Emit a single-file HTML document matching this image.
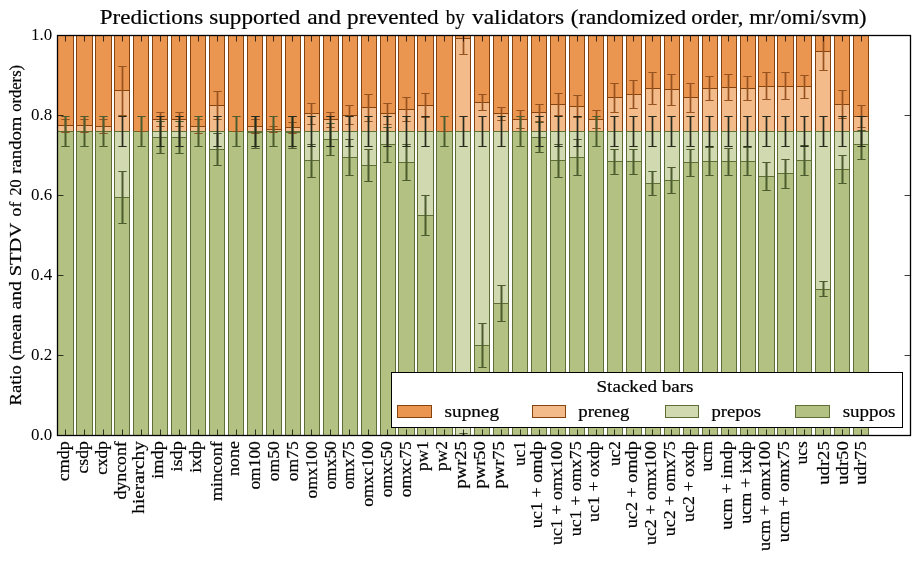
<!DOCTYPE html>
<html><head><meta charset="utf-8"><title>Predictions supported and prevented by validators</title>
<style>html,body{margin:0;padding:0;background:#fff}svg{display:block}text{font-family:"Liberation Serif",serif;fill:#000;stroke:#000;stroke-width:0.2px}text.n{stroke:none}</style>
</head><body>
<svg width="919" height="562" viewBox="0 0 919 562">
<rect width="919" height="562" fill="#fff"/>
<defs><clipPath id="ax"><rect x="57.5" y="35.5" width="853" height="400"/></clipPath></defs>
<g clip-path="url(#ax)" stroke-width="1">
<rect x="57.5" y="35.5" width="16" height="90" fill="#eb9650" stroke="#85440f"/>
<rect x="57.5" y="125.5" width="16" height="6" fill="#f4bb8a" stroke="#85440f"/>
<rect x="57.5" y="131.5" width="16" height="304" fill="#b3c283" stroke="#5d6e36"/>
<rect x="76.5" y="35.5" width="16" height="90" fill="#eb9650" stroke="#85440f"/>
<rect x="76.5" y="125.5" width="16" height="6" fill="#f4bb8a" stroke="#85440f"/>
<rect x="76.5" y="131.5" width="16" height="304" fill="#b3c283" stroke="#5d6e36"/>
<rect x="95.5" y="35.5" width="16" height="91" fill="#eb9650" stroke="#85440f"/>
<rect x="95.5" y="126.5" width="16" height="5" fill="#f4bb8a" stroke="#85440f"/>
<rect x="95.5" y="131.5" width="16" height="304" fill="#b3c283" stroke="#5d6e36"/>
<rect x="114.5" y="35.5" width="15" height="55" fill="#eb9650" stroke="#85440f"/>
<rect x="114.5" y="90.5" width="15" height="41" fill="#f4bb8a" stroke="#85440f"/>
<rect x="114.5" y="131.5" width="15" height="66" fill="#d0d9b0" stroke="#5d6e36"/>
<rect x="114.5" y="197.5" width="15" height="238" fill="#b3c283" stroke="#5d6e36"/>
<rect x="133.5" y="35.5" width="15" height="96" fill="#eb9650" stroke="#85440f"/>
<rect x="133.5" y="131.5" width="15" height="304" fill="#b3c283" stroke="#5d6e36"/>
<rect x="152.5" y="35.5" width="15" height="84" fill="#eb9650" stroke="#85440f"/>
<rect x="152.5" y="119.5" width="15" height="12" fill="#f4bb8a" stroke="#85440f"/>
<rect x="152.5" y="131.5" width="15" height="6" fill="#d0d9b0" stroke="#5d6e36"/>
<rect x="152.5" y="137.5" width="15" height="298" fill="#b3c283" stroke="#5d6e36"/>
<rect x="171.5" y="35.5" width="15" height="84" fill="#eb9650" stroke="#85440f"/>
<rect x="171.5" y="119.5" width="15" height="12" fill="#f4bb8a" stroke="#85440f"/>
<rect x="171.5" y="131.5" width="15" height="6" fill="#d0d9b0" stroke="#5d6e36"/>
<rect x="171.5" y="137.5" width="15" height="298" fill="#b3c283" stroke="#5d6e36"/>
<rect x="190.5" y="35.5" width="15" height="91" fill="#eb9650" stroke="#85440f"/>
<rect x="190.5" y="126.5" width="15" height="5" fill="#f4bb8a" stroke="#85440f"/>
<rect x="190.5" y="131.5" width="15" height="304" fill="#b3c283" stroke="#5d6e36"/>
<rect x="209.5" y="35.5" width="15" height="70" fill="#eb9650" stroke="#85440f"/>
<rect x="209.5" y="105.5" width="15" height="26" fill="#f4bb8a" stroke="#85440f"/>
<rect x="209.5" y="131.5" width="15" height="18" fill="#d0d9b0" stroke="#5d6e36"/>
<rect x="209.5" y="149.5" width="15" height="286" fill="#b3c283" stroke="#5d6e36"/>
<rect x="228.5" y="35.5" width="15" height="96" fill="#eb9650" stroke="#85440f"/>
<rect x="228.5" y="131.5" width="15" height="304" fill="#b3c283" stroke="#5d6e36"/>
<rect x="247.5" y="35.5" width="15" height="91" fill="#eb9650" stroke="#85440f"/>
<rect x="247.5" y="126.5" width="15" height="5" fill="#f4bb8a" stroke="#85440f"/>
<rect x="247.5" y="131.5" width="15" height="1" fill="#d0d9b0" stroke="#5d6e36"/>
<rect x="247.5" y="132.5" width="15" height="303" fill="#b3c283" stroke="#5d6e36"/>
<rect x="266.5" y="35.5" width="15" height="94" fill="#eb9650" stroke="#85440f"/>
<rect x="266.5" y="129.5" width="15" height="2" fill="#f4bb8a" stroke="#85440f"/>
<rect x="266.5" y="131.5" width="15" height="304" fill="#b3c283" stroke="#5d6e36"/>
<rect x="285.5" y="35.5" width="15" height="92" fill="#eb9650" stroke="#85440f"/>
<rect x="285.5" y="127.5" width="15" height="4" fill="#f4bb8a" stroke="#85440f"/>
<rect x="285.5" y="131.5" width="15" height="1" fill="#d0d9b0" stroke="#5d6e36"/>
<rect x="285.5" y="132.5" width="15" height="303" fill="#b3c283" stroke="#5d6e36"/>
<rect x="304.5" y="35.5" width="15" height="78" fill="#eb9650" stroke="#85440f"/>
<rect x="304.5" y="113.5" width="15" height="18" fill="#f4bb8a" stroke="#85440f"/>
<rect x="304.5" y="131.5" width="15" height="29" fill="#d0d9b0" stroke="#5d6e36"/>
<rect x="304.5" y="160.5" width="15" height="275" fill="#b3c283" stroke="#5d6e36"/>
<rect x="323.5" y="35.5" width="15" height="84" fill="#eb9650" stroke="#85440f"/>
<rect x="323.5" y="119.5" width="15" height="12" fill="#f4bb8a" stroke="#85440f"/>
<rect x="323.5" y="131.5" width="15" height="8" fill="#d0d9b0" stroke="#5d6e36"/>
<rect x="323.5" y="139.5" width="15" height="296" fill="#b3c283" stroke="#5d6e36"/>
<rect x="342.5" y="35.5" width="15" height="80" fill="#eb9650" stroke="#85440f"/>
<rect x="342.5" y="115.5" width="15" height="16" fill="#f4bb8a" stroke="#85440f"/>
<rect x="342.5" y="131.5" width="15" height="26" fill="#d0d9b0" stroke="#5d6e36"/>
<rect x="342.5" y="157.5" width="15" height="278" fill="#b3c283" stroke="#5d6e36"/>
<rect x="361.5" y="35.5" width="15" height="72" fill="#eb9650" stroke="#85440f"/>
<rect x="361.5" y="107.5" width="15" height="24" fill="#f4bb8a" stroke="#85440f"/>
<rect x="361.5" y="131.5" width="15" height="34" fill="#d0d9b0" stroke="#5d6e36"/>
<rect x="361.5" y="165.5" width="15" height="270" fill="#b3c283" stroke="#5d6e36"/>
<rect x="380.5" y="35.5" width="15" height="78" fill="#eb9650" stroke="#85440f"/>
<rect x="380.5" y="113.5" width="15" height="18" fill="#f4bb8a" stroke="#85440f"/>
<rect x="380.5" y="131.5" width="15" height="13" fill="#d0d9b0" stroke="#5d6e36"/>
<rect x="380.5" y="144.5" width="15" height="291" fill="#b3c283" stroke="#5d6e36"/>
<rect x="398.5" y="35.5" width="16" height="74" fill="#eb9650" stroke="#85440f"/>
<rect x="398.5" y="109.5" width="16" height="22" fill="#f4bb8a" stroke="#85440f"/>
<rect x="398.5" y="131.5" width="16" height="31" fill="#d0d9b0" stroke="#5d6e36"/>
<rect x="398.5" y="162.5" width="16" height="273" fill="#b3c283" stroke="#5d6e36"/>
<rect x="417.5" y="35.5" width="16" height="70" fill="#eb9650" stroke="#85440f"/>
<rect x="417.5" y="105.5" width="16" height="26" fill="#f4bb8a" stroke="#85440f"/>
<rect x="417.5" y="131.5" width="16" height="84" fill="#d0d9b0" stroke="#5d6e36"/>
<rect x="417.5" y="215.5" width="16" height="220" fill="#b3c283" stroke="#5d6e36"/>
<rect x="436.5" y="35.5" width="16" height="96" fill="#eb9650" stroke="#85440f"/>
<rect x="436.5" y="131.5" width="16" height="304" fill="#b3c283" stroke="#5d6e36"/>
<rect x="455.5" y="35.5" width="15" height="3" fill="#eb9650" stroke="#85440f"/>
<rect x="455.5" y="38.5" width="15" height="93" fill="#f4bb8a" stroke="#85440f"/>
<rect x="455.5" y="131.5" width="15" height="304" fill="#d0d9b0" stroke="#5d6e36"/>
<rect x="474.5" y="35.5" width="15" height="67" fill="#eb9650" stroke="#85440f"/>
<rect x="474.5" y="102.5" width="15" height="29" fill="#f4bb8a" stroke="#85440f"/>
<rect x="474.5" y="131.5" width="15" height="214" fill="#d0d9b0" stroke="#5d6e36"/>
<rect x="474.5" y="345.5" width="15" height="90" fill="#b3c283" stroke="#5d6e36"/>
<rect x="493.5" y="35.5" width="15" height="78" fill="#eb9650" stroke="#85440f"/>
<rect x="493.5" y="113.5" width="15" height="18" fill="#f4bb8a" stroke="#85440f"/>
<rect x="493.5" y="131.5" width="15" height="172" fill="#d0d9b0" stroke="#5d6e36"/>
<rect x="493.5" y="303.5" width="15" height="132" fill="#b3c283" stroke="#5d6e36"/>
<rect x="512.5" y="35.5" width="15" height="84" fill="#eb9650" stroke="#85440f"/>
<rect x="512.5" y="119.5" width="15" height="12" fill="#f4bb8a" stroke="#85440f"/>
<rect x="512.5" y="131.5" width="15" height="304" fill="#b3c283" stroke="#5d6e36"/>
<rect x="531.5" y="35.5" width="15" height="77" fill="#eb9650" stroke="#85440f"/>
<rect x="531.5" y="112.5" width="15" height="19" fill="#f4bb8a" stroke="#85440f"/>
<rect x="531.5" y="131.5" width="15" height="6" fill="#d0d9b0" stroke="#5d6e36"/>
<rect x="531.5" y="137.5" width="15" height="298" fill="#b3c283" stroke="#5d6e36"/>
<rect x="550.5" y="35.5" width="15" height="69" fill="#eb9650" stroke="#85440f"/>
<rect x="550.5" y="104.5" width="15" height="27" fill="#f4bb8a" stroke="#85440f"/>
<rect x="550.5" y="131.5" width="15" height="29" fill="#d0d9b0" stroke="#5d6e36"/>
<rect x="550.5" y="160.5" width="15" height="275" fill="#b3c283" stroke="#5d6e36"/>
<rect x="569.5" y="35.5" width="15" height="71" fill="#eb9650" stroke="#85440f"/>
<rect x="569.5" y="106.5" width="15" height="25" fill="#f4bb8a" stroke="#85440f"/>
<rect x="569.5" y="131.5" width="15" height="26" fill="#d0d9b0" stroke="#5d6e36"/>
<rect x="569.5" y="157.5" width="15" height="278" fill="#b3c283" stroke="#5d6e36"/>
<rect x="588.5" y="35.5" width="15" height="84" fill="#eb9650" stroke="#85440f"/>
<rect x="588.5" y="119.5" width="15" height="12" fill="#f4bb8a" stroke="#85440f"/>
<rect x="588.5" y="131.5" width="15" height="304" fill="#b3c283" stroke="#5d6e36"/>
<rect x="607.5" y="35.5" width="15" height="62" fill="#eb9650" stroke="#85440f"/>
<rect x="607.5" y="97.5" width="15" height="34" fill="#f4bb8a" stroke="#85440f"/>
<rect x="607.5" y="131.5" width="15" height="30" fill="#d0d9b0" stroke="#5d6e36"/>
<rect x="607.5" y="161.5" width="15" height="274" fill="#b3c283" stroke="#5d6e36"/>
<rect x="626.5" y="35.5" width="15" height="59" fill="#eb9650" stroke="#85440f"/>
<rect x="626.5" y="94.5" width="15" height="37" fill="#f4bb8a" stroke="#85440f"/>
<rect x="626.5" y="131.5" width="15" height="30" fill="#d0d9b0" stroke="#5d6e36"/>
<rect x="626.5" y="161.5" width="15" height="274" fill="#b3c283" stroke="#5d6e36"/>
<rect x="645.5" y="35.5" width="15" height="53" fill="#eb9650" stroke="#85440f"/>
<rect x="645.5" y="88.5" width="15" height="43" fill="#f4bb8a" stroke="#85440f"/>
<rect x="645.5" y="131.5" width="15" height="52" fill="#d0d9b0" stroke="#5d6e36"/>
<rect x="645.5" y="183.5" width="15" height="252" fill="#b3c283" stroke="#5d6e36"/>
<rect x="664.5" y="35.5" width="15" height="54" fill="#eb9650" stroke="#85440f"/>
<rect x="664.5" y="89.5" width="15" height="42" fill="#f4bb8a" stroke="#85440f"/>
<rect x="664.5" y="131.5" width="15" height="49" fill="#d0d9b0" stroke="#5d6e36"/>
<rect x="664.5" y="180.5" width="15" height="255" fill="#b3c283" stroke="#5d6e36"/>
<rect x="683.5" y="35.5" width="15" height="62" fill="#eb9650" stroke="#85440f"/>
<rect x="683.5" y="97.5" width="15" height="34" fill="#f4bb8a" stroke="#85440f"/>
<rect x="683.5" y="131.5" width="15" height="31" fill="#d0d9b0" stroke="#5d6e36"/>
<rect x="683.5" y="162.5" width="15" height="273" fill="#b3c283" stroke="#5d6e36"/>
<rect x="702.5" y="35.5" width="15" height="53" fill="#eb9650" stroke="#85440f"/>
<rect x="702.5" y="88.5" width="15" height="43" fill="#f4bb8a" stroke="#85440f"/>
<rect x="702.5" y="131.5" width="15" height="30" fill="#d0d9b0" stroke="#5d6e36"/>
<rect x="702.5" y="161.5" width="15" height="274" fill="#b3c283" stroke="#5d6e36"/>
<rect x="721.5" y="35.5" width="15" height="52" fill="#eb9650" stroke="#85440f"/>
<rect x="721.5" y="87.5" width="15" height="44" fill="#f4bb8a" stroke="#85440f"/>
<rect x="721.5" y="131.5" width="15" height="30" fill="#d0d9b0" stroke="#5d6e36"/>
<rect x="721.5" y="161.5" width="15" height="274" fill="#b3c283" stroke="#5d6e36"/>
<rect x="740.5" y="35.5" width="15" height="53" fill="#eb9650" stroke="#85440f"/>
<rect x="740.5" y="88.5" width="15" height="43" fill="#f4bb8a" stroke="#85440f"/>
<rect x="740.5" y="131.5" width="15" height="30" fill="#d0d9b0" stroke="#5d6e36"/>
<rect x="740.5" y="161.5" width="15" height="274" fill="#b3c283" stroke="#5d6e36"/>
<rect x="758.5" y="35.5" width="16" height="51" fill="#eb9650" stroke="#85440f"/>
<rect x="758.5" y="86.5" width="16" height="45" fill="#f4bb8a" stroke="#85440f"/>
<rect x="758.5" y="131.5" width="16" height="45" fill="#d0d9b0" stroke="#5d6e36"/>
<rect x="758.5" y="176.5" width="16" height="259" fill="#b3c283" stroke="#5d6e36"/>
<rect x="777.5" y="35.5" width="16" height="51" fill="#eb9650" stroke="#85440f"/>
<rect x="777.5" y="86.5" width="16" height="45" fill="#f4bb8a" stroke="#85440f"/>
<rect x="777.5" y="131.5" width="16" height="42" fill="#d0d9b0" stroke="#5d6e36"/>
<rect x="777.5" y="173.5" width="16" height="262" fill="#b3c283" stroke="#5d6e36"/>
<rect x="796.5" y="35.5" width="15" height="51" fill="#eb9650" stroke="#85440f"/>
<rect x="796.5" y="86.5" width="15" height="45" fill="#f4bb8a" stroke="#85440f"/>
<rect x="796.5" y="131.5" width="15" height="29" fill="#d0d9b0" stroke="#5d6e36"/>
<rect x="796.5" y="160.5" width="15" height="275" fill="#b3c283" stroke="#5d6e36"/>
<rect x="815.5" y="35.5" width="15" height="16" fill="#eb9650" stroke="#85440f"/>
<rect x="815.5" y="51.5" width="15" height="80" fill="#f4bb8a" stroke="#85440f"/>
<rect x="815.5" y="131.5" width="15" height="158" fill="#d0d9b0" stroke="#5d6e36"/>
<rect x="815.5" y="289.5" width="15" height="146" fill="#b3c283" stroke="#5d6e36"/>
<rect x="834.5" y="35.5" width="15" height="69" fill="#eb9650" stroke="#85440f"/>
<rect x="834.5" y="104.5" width="15" height="27" fill="#f4bb8a" stroke="#85440f"/>
<rect x="834.5" y="131.5" width="15" height="38" fill="#d0d9b0" stroke="#5d6e36"/>
<rect x="834.5" y="169.5" width="15" height="266" fill="#b3c283" stroke="#5d6e36"/>
<rect x="853.5" y="35.5" width="15" height="81" fill="#eb9650" stroke="#85440f"/>
<rect x="853.5" y="116.5" width="15" height="15" fill="#f4bb8a" stroke="#85440f"/>
<rect x="853.5" y="131.5" width="15" height="13" fill="#d0d9b0" stroke="#5d6e36"/>
<rect x="853.5" y="144.5" width="15" height="291" fill="#b3c283" stroke="#5d6e36"/>
</g>
<g clip-path="url(#ax)">
<path d="M65.5 119.5V132.5" stroke="#96531f" stroke-width="1.7" fill="none"/>
<path d="M61.3 119.5H69.7M61.3 132.5H69.7" stroke="#96531f" stroke-width="1" fill="none"/>
<path d="M65.5 116.5V146.5" stroke="#4d5c2e" stroke-width="2" fill="none"/>
<path d="M61.3 116.5H69.7M61.3 146.5H69.7" stroke="#4d5c2e" stroke-width="1" fill="none"/>
<path d="M84.5 119.5V132.5" stroke="#96531f" stroke-width="1.7" fill="none"/>
<path d="M80.3 119.5H88.7M80.3 132.5H88.7" stroke="#96531f" stroke-width="1" fill="none"/>
<path d="M84.5 116.5V146.5" stroke="#4d5c2e" stroke-width="2" fill="none"/>
<path d="M80.3 116.5H88.7M80.3 146.5H88.7" stroke="#4d5c2e" stroke-width="1" fill="none"/>
<path d="M103.5 119.5V133.5" stroke="#96531f" stroke-width="1.7" fill="none"/>
<path d="M99.3 119.5H107.7M99.3 133.5H107.7" stroke="#96531f" stroke-width="1" fill="none"/>
<path d="M103.5 116.5V146.5" stroke="#4d5c2e" stroke-width="2" fill="none"/>
<path d="M99.3 116.5H107.7M99.3 146.5H107.7" stroke="#4d5c2e" stroke-width="1" fill="none"/>
<path d="M122.5 66.5V115.5" stroke="#96531f" stroke-width="1.7" fill="none"/>
<path d="M118.3 66.5H126.7M118.3 115.5H126.7" stroke="#96531f" stroke-width="1" fill="none"/>
<path d="M122.5 171.5V223.5" stroke="#4d5c2e" stroke-width="2" fill="none"/>
<path d="M118.3 171.5H126.7M118.3 223.5H126.7" stroke="#4d5c2e" stroke-width="1" fill="none"/>
<path d="M122.5 116.5V146.5" stroke="#272b1e" stroke-width="1.7" fill="none"/>
<path d="M118.3 116.5H126.7M118.3 146.5H126.7" stroke="#272b1e" stroke-width="1" fill="none"/>
<path d="M141.5 131.5V131.5" stroke="#96531f" stroke-width="1.7" fill="none"/>
<path d="M137.3 131.5H145.7M137.3 131.5H145.7" stroke="#96531f" stroke-width="1" fill="none"/>
<path d="M141.5 116.5V146.5" stroke="#4d5c2e" stroke-width="2" fill="none"/>
<path d="M137.3 116.5H145.7M137.3 146.5H145.7" stroke="#4d5c2e" stroke-width="1" fill="none"/>
<path d="M160.5 112.5V126.5" stroke="#96531f" stroke-width="1.7" fill="none"/>
<path d="M156.3 112.5H164.7M156.3 126.5H164.7" stroke="#96531f" stroke-width="1" fill="none"/>
<path d="M160.5 121.5V153.5" stroke="#4d5c2e" stroke-width="2" fill="none"/>
<path d="M156.3 121.5H164.7M156.3 153.5H164.7" stroke="#4d5c2e" stroke-width="1" fill="none"/>
<path d="M160.5 116.5V146.5" stroke="#272b1e" stroke-width="1.7" fill="none"/>
<path d="M156.3 116.5H164.7M156.3 146.5H164.7" stroke="#272b1e" stroke-width="1" fill="none"/>
<path d="M179.5 112.5V126.5" stroke="#96531f" stroke-width="1.7" fill="none"/>
<path d="M175.3 112.5H183.7M175.3 126.5H183.7" stroke="#96531f" stroke-width="1" fill="none"/>
<path d="M179.5 121.5V153.5" stroke="#4d5c2e" stroke-width="2" fill="none"/>
<path d="M175.3 121.5H183.7M175.3 153.5H183.7" stroke="#4d5c2e" stroke-width="1" fill="none"/>
<path d="M179.5 116.5V146.5" stroke="#272b1e" stroke-width="1.7" fill="none"/>
<path d="M175.3 116.5H183.7M175.3 146.5H183.7" stroke="#272b1e" stroke-width="1" fill="none"/>
<path d="M198.5 119.5V133.5" stroke="#96531f" stroke-width="1.7" fill="none"/>
<path d="M194.3 119.5H202.7M194.3 133.5H202.7" stroke="#96531f" stroke-width="1" fill="none"/>
<path d="M198.5 116.5V146.5" stroke="#4d5c2e" stroke-width="2" fill="none"/>
<path d="M194.3 116.5H202.7M194.3 146.5H202.7" stroke="#4d5c2e" stroke-width="1" fill="none"/>
<path d="M217.5 91.5V119.5" stroke="#96531f" stroke-width="1.7" fill="none"/>
<path d="M213.3 91.5H221.7M213.3 119.5H221.7" stroke="#96531f" stroke-width="1" fill="none"/>
<path d="M217.5 133.5V165.5" stroke="#4d5c2e" stroke-width="2" fill="none"/>
<path d="M213.3 133.5H221.7M213.3 165.5H221.7" stroke="#4d5c2e" stroke-width="1" fill="none"/>
<path d="M217.5 116.5V146.5" stroke="#272b1e" stroke-width="1.7" fill="none"/>
<path d="M213.3 116.5H221.7M213.3 146.5H221.7" stroke="#272b1e" stroke-width="1" fill="none"/>
<path d="M236.5 131.5V131.5" stroke="#96531f" stroke-width="1.7" fill="none"/>
<path d="M232.3 131.5H240.7M232.3 131.5H240.7" stroke="#96531f" stroke-width="1" fill="none"/>
<path d="M236.5 116.5V146.5" stroke="#4d5c2e" stroke-width="2" fill="none"/>
<path d="M232.3 116.5H240.7M232.3 146.5H240.7" stroke="#4d5c2e" stroke-width="1" fill="none"/>
<path d="M255.5 119.5V133.5" stroke="#96531f" stroke-width="1.7" fill="none"/>
<path d="M251.3 119.5H259.7M251.3 133.5H259.7" stroke="#96531f" stroke-width="1" fill="none"/>
<path d="M255.5 116.5V148.5" stroke="#4d5c2e" stroke-width="2" fill="none"/>
<path d="M251.3 116.5H259.7M251.3 148.5H259.7" stroke="#4d5c2e" stroke-width="1" fill="none"/>
<path d="M255.5 116.5V146.5" stroke="#272b1e" stroke-width="1.7" fill="none"/>
<path d="M251.3 116.5H259.7M251.3 146.5H259.7" stroke="#272b1e" stroke-width="1" fill="none"/>
<path d="M273.5 126.5V132.5" stroke="#96531f" stroke-width="1.7" fill="none"/>
<path d="M269.3 126.5H277.7M269.3 132.5H277.7" stroke="#96531f" stroke-width="1" fill="none"/>
<path d="M273.5 116.5V146.5" stroke="#4d5c2e" stroke-width="2" fill="none"/>
<path d="M269.3 116.5H277.7M269.3 146.5H277.7" stroke="#4d5c2e" stroke-width="1" fill="none"/>
<path d="M292.5 122.5V133.5" stroke="#96531f" stroke-width="1.7" fill="none"/>
<path d="M288.3 122.5H296.7M288.3 133.5H296.7" stroke="#96531f" stroke-width="1" fill="none"/>
<path d="M292.5 116.5V148.5" stroke="#4d5c2e" stroke-width="2" fill="none"/>
<path d="M288.3 116.5H296.7M288.3 148.5H296.7" stroke="#4d5c2e" stroke-width="1" fill="none"/>
<path d="M292.5 116.5V146.5" stroke="#272b1e" stroke-width="1.7" fill="none"/>
<path d="M288.3 116.5H296.7M288.3 146.5H296.7" stroke="#272b1e" stroke-width="1" fill="none"/>
<path d="M311.5 103.5V124.5" stroke="#96531f" stroke-width="1.7" fill="none"/>
<path d="M307.3 103.5H315.7M307.3 124.5H315.7" stroke="#96531f" stroke-width="1" fill="none"/>
<path d="M311.5 144.5V177.5" stroke="#4d5c2e" stroke-width="2" fill="none"/>
<path d="M307.3 144.5H315.7M307.3 177.5H315.7" stroke="#4d5c2e" stroke-width="1" fill="none"/>
<path d="M311.5 116.5V146.5" stroke="#272b1e" stroke-width="1.7" fill="none"/>
<path d="M307.3 116.5H315.7M307.3 146.5H315.7" stroke="#272b1e" stroke-width="1" fill="none"/>
<path d="M330.5 112.5V127.5" stroke="#96531f" stroke-width="1.7" fill="none"/>
<path d="M326.3 112.5H334.7M326.3 127.5H334.7" stroke="#96531f" stroke-width="1" fill="none"/>
<path d="M330.5 123.5V155.5" stroke="#4d5c2e" stroke-width="2" fill="none"/>
<path d="M326.3 123.5H334.7M326.3 155.5H334.7" stroke="#4d5c2e" stroke-width="1" fill="none"/>
<path d="M330.5 116.5V146.5" stroke="#272b1e" stroke-width="1.7" fill="none"/>
<path d="M326.3 116.5H334.7M326.3 146.5H334.7" stroke="#272b1e" stroke-width="1" fill="none"/>
<path d="M349.5 105.5V124.5" stroke="#96531f" stroke-width="1.7" fill="none"/>
<path d="M345.3 105.5H353.7M345.3 124.5H353.7" stroke="#96531f" stroke-width="1" fill="none"/>
<path d="M349.5 139.5V175.5" stroke="#4d5c2e" stroke-width="2" fill="none"/>
<path d="M345.3 139.5H353.7M345.3 175.5H353.7" stroke="#4d5c2e" stroke-width="1" fill="none"/>
<path d="M349.5 116.5V146.5" stroke="#272b1e" stroke-width="1.7" fill="none"/>
<path d="M345.3 116.5H353.7M345.3 146.5H353.7" stroke="#272b1e" stroke-width="1" fill="none"/>
<path d="M368.5 94.5V121.5" stroke="#96531f" stroke-width="1.7" fill="none"/>
<path d="M364.3 94.5H372.7M364.3 121.5H372.7" stroke="#96531f" stroke-width="1" fill="none"/>
<path d="M368.5 149.5V181.5" stroke="#4d5c2e" stroke-width="2" fill="none"/>
<path d="M364.3 149.5H372.7M364.3 181.5H372.7" stroke="#4d5c2e" stroke-width="1" fill="none"/>
<path d="M368.5 116.5V146.5" stroke="#272b1e" stroke-width="1.7" fill="none"/>
<path d="M364.3 116.5H372.7M364.3 146.5H372.7" stroke="#272b1e" stroke-width="1" fill="none"/>
<path d="M387.5 103.5V124.5" stroke="#96531f" stroke-width="1.7" fill="none"/>
<path d="M383.3 103.5H391.7M383.3 124.5H391.7" stroke="#96531f" stroke-width="1" fill="none"/>
<path d="M387.5 127.5V162.5" stroke="#4d5c2e" stroke-width="2" fill="none"/>
<path d="M383.3 127.5H391.7M383.3 162.5H391.7" stroke="#4d5c2e" stroke-width="1" fill="none"/>
<path d="M387.5 116.5V146.5" stroke="#272b1e" stroke-width="1.7" fill="none"/>
<path d="M383.3 116.5H391.7M383.3 146.5H391.7" stroke="#272b1e" stroke-width="1" fill="none"/>
<path d="M406.5 97.5V121.5" stroke="#96531f" stroke-width="1.7" fill="none"/>
<path d="M402.3 97.5H410.7M402.3 121.5H410.7" stroke="#96531f" stroke-width="1" fill="none"/>
<path d="M406.5 144.5V180.5" stroke="#4d5c2e" stroke-width="2" fill="none"/>
<path d="M402.3 144.5H410.7M402.3 180.5H410.7" stroke="#4d5c2e" stroke-width="1" fill="none"/>
<path d="M406.5 116.5V146.5" stroke="#272b1e" stroke-width="1.7" fill="none"/>
<path d="M402.3 116.5H410.7M402.3 146.5H410.7" stroke="#272b1e" stroke-width="1" fill="none"/>
<path d="M425.5 93.5V117.5" stroke="#96531f" stroke-width="1.7" fill="none"/>
<path d="M421.3 93.5H429.7M421.3 117.5H429.7" stroke="#96531f" stroke-width="1" fill="none"/>
<path d="M425.5 195.5V235.5" stroke="#4d5c2e" stroke-width="2" fill="none"/>
<path d="M421.3 195.5H429.7M421.3 235.5H429.7" stroke="#4d5c2e" stroke-width="1" fill="none"/>
<path d="M425.5 116.5V146.5" stroke="#272b1e" stroke-width="1.7" fill="none"/>
<path d="M421.3 116.5H429.7M421.3 146.5H429.7" stroke="#272b1e" stroke-width="1" fill="none"/>
<path d="M444.5 131.5V131.5" stroke="#96531f" stroke-width="1.7" fill="none"/>
<path d="M440.3 131.5H448.7M440.3 131.5H448.7" stroke="#96531f" stroke-width="1" fill="none"/>
<path d="M444.5 116.5V146.5" stroke="#4d5c2e" stroke-width="2" fill="none"/>
<path d="M440.3 116.5H448.7M440.3 146.5H448.7" stroke="#4d5c2e" stroke-width="1" fill="none"/>
<path d="M463.5 22.5V54.5" stroke="#96531f" stroke-width="1.7" fill="none"/>
<path d="M459.3 22.5H467.7M459.3 54.5H467.7" stroke="#96531f" stroke-width="1" fill="none"/>
<path d="M463.5 433.5V437.5" stroke="#4d5c2e" stroke-width="2" fill="none"/>
<path d="M459.3 433.5H467.7M459.3 437.5H467.7" stroke="#4d5c2e" stroke-width="1" fill="none"/>
<path d="M463.5 116.5V146.5" stroke="#272b1e" stroke-width="1.7" fill="none"/>
<path d="M459.3 116.5H467.7M459.3 146.5H467.7" stroke="#272b1e" stroke-width="1" fill="none"/>
<path d="M482.5 94.5V110.5" stroke="#96531f" stroke-width="1.7" fill="none"/>
<path d="M478.3 94.5H486.7M478.3 110.5H486.7" stroke="#96531f" stroke-width="1" fill="none"/>
<path d="M482.5 323.5V367.5" stroke="#4d5c2e" stroke-width="2" fill="none"/>
<path d="M478.3 323.5H486.7M478.3 367.5H486.7" stroke="#4d5c2e" stroke-width="1" fill="none"/>
<path d="M482.5 116.5V146.5" stroke="#272b1e" stroke-width="1.7" fill="none"/>
<path d="M478.3 116.5H486.7M478.3 146.5H486.7" stroke="#272b1e" stroke-width="1" fill="none"/>
<path d="M501.5 107.5V120.5" stroke="#96531f" stroke-width="1.7" fill="none"/>
<path d="M497.3 107.5H505.7M497.3 120.5H505.7" stroke="#96531f" stroke-width="1" fill="none"/>
<path d="M501.5 285.5V321.5" stroke="#4d5c2e" stroke-width="2" fill="none"/>
<path d="M497.3 285.5H505.7M497.3 321.5H505.7" stroke="#4d5c2e" stroke-width="1" fill="none"/>
<path d="M501.5 116.5V146.5" stroke="#272b1e" stroke-width="1.7" fill="none"/>
<path d="M497.3 116.5H505.7M497.3 146.5H505.7" stroke="#272b1e" stroke-width="1" fill="none"/>
<path d="M520.5 110.5V128.5" stroke="#96531f" stroke-width="1.7" fill="none"/>
<path d="M516.3 110.5H524.7M516.3 128.5H524.7" stroke="#96531f" stroke-width="1" fill="none"/>
<path d="M520.5 116.5V146.5" stroke="#4d5c2e" stroke-width="2" fill="none"/>
<path d="M516.3 116.5H524.7M516.3 146.5H524.7" stroke="#4d5c2e" stroke-width="1" fill="none"/>
<path d="M539.5 104.5V121.5" stroke="#96531f" stroke-width="1.7" fill="none"/>
<path d="M535.3 104.5H543.7M535.3 121.5H543.7" stroke="#96531f" stroke-width="1" fill="none"/>
<path d="M539.5 122.5V152.5" stroke="#4d5c2e" stroke-width="2" fill="none"/>
<path d="M535.3 122.5H543.7M535.3 152.5H543.7" stroke="#4d5c2e" stroke-width="1" fill="none"/>
<path d="M539.5 116.5V146.5" stroke="#272b1e" stroke-width="1.7" fill="none"/>
<path d="M535.3 116.5H543.7M535.3 146.5H543.7" stroke="#272b1e" stroke-width="1" fill="none"/>
<path d="M558.5 93.5V115.5" stroke="#96531f" stroke-width="1.7" fill="none"/>
<path d="M554.3 93.5H562.7M554.3 115.5H562.7" stroke="#96531f" stroke-width="1" fill="none"/>
<path d="M558.5 144.5V177.5" stroke="#4d5c2e" stroke-width="2" fill="none"/>
<path d="M554.3 144.5H562.7M554.3 177.5H562.7" stroke="#4d5c2e" stroke-width="1" fill="none"/>
<path d="M558.5 116.5V146.5" stroke="#272b1e" stroke-width="1.7" fill="none"/>
<path d="M554.3 116.5H562.7M554.3 146.5H562.7" stroke="#272b1e" stroke-width="1" fill="none"/>
<path d="M577.5 95.5V117.5" stroke="#96531f" stroke-width="1.7" fill="none"/>
<path d="M573.3 95.5H581.7M573.3 117.5H581.7" stroke="#96531f" stroke-width="1" fill="none"/>
<path d="M577.5 139.5V175.5" stroke="#4d5c2e" stroke-width="2" fill="none"/>
<path d="M573.3 139.5H581.7M573.3 175.5H581.7" stroke="#4d5c2e" stroke-width="1" fill="none"/>
<path d="M577.5 116.5V146.5" stroke="#272b1e" stroke-width="1.7" fill="none"/>
<path d="M573.3 116.5H581.7M573.3 146.5H581.7" stroke="#272b1e" stroke-width="1" fill="none"/>
<path d="M596.5 110.5V128.5" stroke="#96531f" stroke-width="1.7" fill="none"/>
<path d="M592.3 110.5H600.7M592.3 128.5H600.7" stroke="#96531f" stroke-width="1" fill="none"/>
<path d="M596.5 116.5V146.5" stroke="#4d5c2e" stroke-width="2" fill="none"/>
<path d="M592.3 116.5H600.7M592.3 146.5H600.7" stroke="#4d5c2e" stroke-width="1" fill="none"/>
<path d="M614.5 83.5V112.5" stroke="#96531f" stroke-width="1.7" fill="none"/>
<path d="M610.3 83.5H618.7M610.3 112.5H618.7" stroke="#96531f" stroke-width="1" fill="none"/>
<path d="M614.5 149.5V174.5" stroke="#4d5c2e" stroke-width="2" fill="none"/>
<path d="M610.3 149.5H618.7M610.3 174.5H618.7" stroke="#4d5c2e" stroke-width="1" fill="none"/>
<path d="M614.5 116.5V146.5" stroke="#272b1e" stroke-width="1.7" fill="none"/>
<path d="M610.3 116.5H618.7M610.3 146.5H618.7" stroke="#272b1e" stroke-width="1" fill="none"/>
<path d="M633.5 80.5V108.5" stroke="#96531f" stroke-width="1.7" fill="none"/>
<path d="M629.3 80.5H637.7M629.3 108.5H637.7" stroke="#96531f" stroke-width="1" fill="none"/>
<path d="M633.5 149.5V174.5" stroke="#4d5c2e" stroke-width="2" fill="none"/>
<path d="M629.3 149.5H637.7M629.3 174.5H637.7" stroke="#4d5c2e" stroke-width="1" fill="none"/>
<path d="M633.5 116.5V146.5" stroke="#272b1e" stroke-width="1.7" fill="none"/>
<path d="M629.3 116.5H637.7M629.3 146.5H637.7" stroke="#272b1e" stroke-width="1" fill="none"/>
<path d="M652.5 72.5V104.5" stroke="#96531f" stroke-width="1.7" fill="none"/>
<path d="M648.3 72.5H656.7M648.3 104.5H656.7" stroke="#96531f" stroke-width="1" fill="none"/>
<path d="M652.5 171.5V195.5" stroke="#4d5c2e" stroke-width="2" fill="none"/>
<path d="M648.3 171.5H656.7M648.3 195.5H656.7" stroke="#4d5c2e" stroke-width="1" fill="none"/>
<path d="M652.5 116.5V146.5" stroke="#272b1e" stroke-width="1.7" fill="none"/>
<path d="M648.3 116.5H656.7M648.3 146.5H656.7" stroke="#272b1e" stroke-width="1" fill="none"/>
<path d="M671.5 74.5V105.5" stroke="#96531f" stroke-width="1.7" fill="none"/>
<path d="M667.3 74.5H675.7M667.3 105.5H675.7" stroke="#96531f" stroke-width="1" fill="none"/>
<path d="M671.5 167.5V193.5" stroke="#4d5c2e" stroke-width="2" fill="none"/>
<path d="M667.3 167.5H675.7M667.3 193.5H675.7" stroke="#4d5c2e" stroke-width="1" fill="none"/>
<path d="M671.5 116.5V146.5" stroke="#272b1e" stroke-width="1.7" fill="none"/>
<path d="M667.3 116.5H675.7M667.3 146.5H675.7" stroke="#272b1e" stroke-width="1" fill="none"/>
<path d="M690.5 83.5V112.5" stroke="#96531f" stroke-width="1.7" fill="none"/>
<path d="M686.3 83.5H694.7M686.3 112.5H694.7" stroke="#96531f" stroke-width="1" fill="none"/>
<path d="M690.5 149.5V176.5" stroke="#4d5c2e" stroke-width="2" fill="none"/>
<path d="M686.3 149.5H694.7M686.3 176.5H694.7" stroke="#4d5c2e" stroke-width="1" fill="none"/>
<path d="M690.5 116.5V146.5" stroke="#272b1e" stroke-width="1.7" fill="none"/>
<path d="M686.3 116.5H694.7M686.3 146.5H694.7" stroke="#272b1e" stroke-width="1" fill="none"/>
<path d="M709.5 76.5V100.5" stroke="#96531f" stroke-width="1.7" fill="none"/>
<path d="M705.3 76.5H713.7M705.3 100.5H713.7" stroke="#96531f" stroke-width="1" fill="none"/>
<path d="M709.5 147.5V175.5" stroke="#4d5c2e" stroke-width="2" fill="none"/>
<path d="M705.3 147.5H713.7M705.3 175.5H713.7" stroke="#4d5c2e" stroke-width="1" fill="none"/>
<path d="M709.5 116.5V146.5" stroke="#272b1e" stroke-width="1.7" fill="none"/>
<path d="M705.3 116.5H713.7M705.3 146.5H713.7" stroke="#272b1e" stroke-width="1" fill="none"/>
<path d="M728.5 74.5V100.5" stroke="#96531f" stroke-width="1.7" fill="none"/>
<path d="M724.3 74.5H732.7M724.3 100.5H732.7" stroke="#96531f" stroke-width="1" fill="none"/>
<path d="M728.5 148.5V175.5" stroke="#4d5c2e" stroke-width="2" fill="none"/>
<path d="M724.3 148.5H732.7M724.3 175.5H732.7" stroke="#4d5c2e" stroke-width="1" fill="none"/>
<path d="M728.5 116.5V146.5" stroke="#272b1e" stroke-width="1.7" fill="none"/>
<path d="M724.3 116.5H732.7M724.3 146.5H732.7" stroke="#272b1e" stroke-width="1" fill="none"/>
<path d="M747.5 76.5V100.5" stroke="#96531f" stroke-width="1.7" fill="none"/>
<path d="M743.3 76.5H751.7M743.3 100.5H751.7" stroke="#96531f" stroke-width="1" fill="none"/>
<path d="M747.5 147.5V175.5" stroke="#4d5c2e" stroke-width="2" fill="none"/>
<path d="M743.3 147.5H751.7M743.3 175.5H751.7" stroke="#4d5c2e" stroke-width="1" fill="none"/>
<path d="M747.5 116.5V146.5" stroke="#272b1e" stroke-width="1.7" fill="none"/>
<path d="M743.3 116.5H751.7M743.3 146.5H751.7" stroke="#272b1e" stroke-width="1" fill="none"/>
<path d="M766.5 72.5V99.5" stroke="#96531f" stroke-width="1.7" fill="none"/>
<path d="M762.3 72.5H770.7M762.3 99.5H770.7" stroke="#96531f" stroke-width="1" fill="none"/>
<path d="M766.5 162.5V190.5" stroke="#4d5c2e" stroke-width="2" fill="none"/>
<path d="M762.3 162.5H770.7M762.3 190.5H770.7" stroke="#4d5c2e" stroke-width="1" fill="none"/>
<path d="M766.5 116.5V146.5" stroke="#272b1e" stroke-width="1.7" fill="none"/>
<path d="M762.3 116.5H770.7M762.3 146.5H770.7" stroke="#272b1e" stroke-width="1" fill="none"/>
<path d="M785.5 72.5V99.5" stroke="#96531f" stroke-width="1.7" fill="none"/>
<path d="M781.3 72.5H789.7M781.3 99.5H789.7" stroke="#96531f" stroke-width="1" fill="none"/>
<path d="M785.5 159.5V188.5" stroke="#4d5c2e" stroke-width="2" fill="none"/>
<path d="M781.3 159.5H789.7M781.3 188.5H789.7" stroke="#4d5c2e" stroke-width="1" fill="none"/>
<path d="M785.5 116.5V146.5" stroke="#272b1e" stroke-width="1.7" fill="none"/>
<path d="M781.3 116.5H789.7M781.3 146.5H789.7" stroke="#272b1e" stroke-width="1" fill="none"/>
<path d="M804.5 75.5V98.5" stroke="#96531f" stroke-width="1.7" fill="none"/>
<path d="M800.3 75.5H808.7M800.3 98.5H808.7" stroke="#96531f" stroke-width="1" fill="none"/>
<path d="M804.5 145.5V175.5" stroke="#4d5c2e" stroke-width="2" fill="none"/>
<path d="M800.3 145.5H808.7M800.3 175.5H808.7" stroke="#4d5c2e" stroke-width="1" fill="none"/>
<path d="M804.5 116.5V146.5" stroke="#272b1e" stroke-width="1.7" fill="none"/>
<path d="M800.3 116.5H808.7M800.3 146.5H808.7" stroke="#272b1e" stroke-width="1" fill="none"/>
<path d="M823.5 32.5V70.5" stroke="#96531f" stroke-width="1.7" fill="none"/>
<path d="M819.3 32.5H827.7M819.3 70.5H827.7" stroke="#96531f" stroke-width="1" fill="none"/>
<path d="M823.5 281.5V296.5" stroke="#4d5c2e" stroke-width="2" fill="none"/>
<path d="M819.3 281.5H827.7M819.3 296.5H827.7" stroke="#4d5c2e" stroke-width="1" fill="none"/>
<path d="M823.5 116.5V146.5" stroke="#272b1e" stroke-width="1.7" fill="none"/>
<path d="M819.3 116.5H827.7M819.3 146.5H827.7" stroke="#272b1e" stroke-width="1" fill="none"/>
<path d="M842.5 90.5V118.5" stroke="#96531f" stroke-width="1.7" fill="none"/>
<path d="M838.3 90.5H846.7M838.3 118.5H846.7" stroke="#96531f" stroke-width="1" fill="none"/>
<path d="M842.5 155.5V183.5" stroke="#4d5c2e" stroke-width="2" fill="none"/>
<path d="M838.3 155.5H846.7M838.3 183.5H846.7" stroke="#4d5c2e" stroke-width="1" fill="none"/>
<path d="M842.5 116.5V146.5" stroke="#272b1e" stroke-width="1.7" fill="none"/>
<path d="M838.3 116.5H846.7M838.3 146.5H846.7" stroke="#272b1e" stroke-width="1" fill="none"/>
<path d="M861.5 105.5V127.5" stroke="#96531f" stroke-width="1.7" fill="none"/>
<path d="M857.3 105.5H865.7M857.3 127.5H865.7" stroke="#96531f" stroke-width="1" fill="none"/>
<path d="M861.5 130.5V159.5" stroke="#4d5c2e" stroke-width="2" fill="none"/>
<path d="M857.3 130.5H865.7M857.3 159.5H865.7" stroke="#4d5c2e" stroke-width="1" fill="none"/>
<path d="M861.5 116.5V146.5" stroke="#272b1e" stroke-width="1.7" fill="none"/>
<path d="M857.3 116.5H865.7M857.3 146.5H865.7" stroke="#272b1e" stroke-width="1" fill="none"/>
</g>
<g stroke="#000" stroke-width="1" fill="none">
<g stroke-width="0.75">
<path d="M65.5 35.5v6M65.5 435.5v-6M84.5 35.5v6M84.5 435.5v-6M103.5 35.5v6M103.5 435.5v-6M122.5 35.5v6M122.5 435.5v-6M141.5 35.5v6M141.5 435.5v-6M160.5 35.5v6M160.5 435.5v-6M179.5 35.5v6M179.5 435.5v-6M198.5 35.5v6M198.5 435.5v-6M217.5 35.5v6M217.5 435.5v-6M236.5 35.5v6M236.5 435.5v-6M255.5 35.5v6M255.5 435.5v-6M273.5 35.5v6M273.5 435.5v-6M292.5 35.5v6M292.5 435.5v-6M311.5 35.5v6M311.5 435.5v-6M330.5 35.5v6M330.5 435.5v-6M349.5 35.5v6M349.5 435.5v-6M368.5 35.5v6M368.5 435.5v-6M387.5 35.5v6M387.5 435.5v-6M406.5 35.5v6M406.5 435.5v-6M425.5 35.5v6M425.5 435.5v-6M444.5 35.5v6M444.5 435.5v-6M463.5 35.5v6M463.5 435.5v-6M482.5 35.5v6M482.5 435.5v-6M501.5 35.5v6M501.5 435.5v-6M520.5 35.5v6M520.5 435.5v-6M539.5 35.5v6M539.5 435.5v-6M558.5 35.5v6M558.5 435.5v-6M577.5 35.5v6M577.5 435.5v-6M596.5 35.5v6M596.5 435.5v-6M614.5 35.5v6M614.5 435.5v-6M633.5 35.5v6M633.5 435.5v-6M652.5 35.5v6M652.5 435.5v-6M671.5 35.5v6M671.5 435.5v-6M690.5 35.5v6M690.5 435.5v-6M709.5 35.5v6M709.5 435.5v-6M728.5 35.5v6M728.5 435.5v-6M747.5 35.5v6M747.5 435.5v-6M766.5 35.5v6M766.5 435.5v-6M785.5 35.5v6M785.5 435.5v-6M804.5 35.5v6M804.5 435.5v-6M823.5 35.5v6M823.5 435.5v-6M842.5 35.5v6M842.5 435.5v-6M861.5 35.5v6M861.5 435.5v-6M57.5 435.5h6M910.5 435.5h-6M57.5 355.5h6M910.5 355.5h-6M57.5 275.5h6M910.5 275.5h-6M57.5 195.5h6M910.5 195.5h-6M57.5 115.5h6M910.5 115.5h-6M57.5 35.5h6M910.5 35.5h-6"/>
</g>
<rect x="57.5" y="35.5" width="853" height="400" stroke-width="1.3"/>
</g>
<text x="52.2" y="439.6" font-size="17.6" text-anchor="end" textLength="21.2" lengthAdjust="spacingAndGlyphs" class="n">0.0</text>
<text x="52.2" y="359.6" font-size="17.6" text-anchor="end" textLength="21.2" lengthAdjust="spacingAndGlyphs" class="n">0.2</text>
<text x="52.2" y="279.6" font-size="17.6" text-anchor="end" textLength="21.2" lengthAdjust="spacingAndGlyphs" class="n">0.4</text>
<text x="52.2" y="199.6" font-size="17.6" text-anchor="end" textLength="21.2" lengthAdjust="spacingAndGlyphs" class="n">0.6</text>
<text x="52.2" y="119.6" font-size="17.6" text-anchor="end" textLength="21.2" lengthAdjust="spacingAndGlyphs" class="n">0.8</text>
<text x="52.2" y="39.6" font-size="17.6" text-anchor="end" textLength="21.2" lengthAdjust="spacingAndGlyphs" class="n">1.0</text>
<text transform="translate(68.66 441.2) rotate(-90)" font-size="16.6" text-anchor="end" textLength="40" lengthAdjust="spacingAndGlyphs">cmdp</text>
<text transform="translate(87.6 441.2) rotate(-90)" font-size="16.6" text-anchor="end" textLength="32.3" lengthAdjust="spacingAndGlyphs">csdp</text>
<text transform="translate(106.55 441.2) rotate(-90)" font-size="16.6" text-anchor="end" textLength="33.5" lengthAdjust="spacingAndGlyphs">cxdp</text>
<text transform="translate(125.54 441.2) rotate(-90)" font-size="16.6" text-anchor="end" textLength="58.4" lengthAdjust="spacingAndGlyphs">dynconf</text>
<text transform="translate(144.44 441.2) rotate(-90)" font-size="16.6" text-anchor="end" textLength="72.5" lengthAdjust="spacingAndGlyphs">hierarchy</text>
<text transform="translate(163.38 441.2) rotate(-90)" font-size="16.6" text-anchor="end" textLength="37.6" lengthAdjust="spacingAndGlyphs">imdp</text>
<text transform="translate(182.33 441.2) rotate(-90)" font-size="16.6" text-anchor="end" textLength="30.4" lengthAdjust="spacingAndGlyphs">isdp</text>
<text transform="translate(201.27 441.2) rotate(-90)" font-size="16.6" text-anchor="end" textLength="31.6" lengthAdjust="spacingAndGlyphs">ixdp</text>
<text transform="translate(221.87 441.2) rotate(-90)" font-size="16.6" text-anchor="end" textLength="59.9" lengthAdjust="spacingAndGlyphs">minconf</text>
<text transform="translate(238.56 441.2) rotate(-90)" font-size="16.6" text-anchor="end" textLength="34.7" lengthAdjust="spacingAndGlyphs">none</text>
<text transform="translate(259.76 441.2) rotate(-90)" font-size="16.6" text-anchor="end" textLength="48.4" lengthAdjust="spacingAndGlyphs">om100</text>
<text transform="translate(278.7 441.2) rotate(-90)" font-size="16.6" text-anchor="end" textLength="40" lengthAdjust="spacingAndGlyphs">om50</text>
<text transform="translate(297.65 441.2) rotate(-90)" font-size="16.6" text-anchor="end" textLength="40" lengthAdjust="spacingAndGlyphs">om75</text>
<text transform="translate(316.59 441.2) rotate(-90)" font-size="16.6" text-anchor="end" textLength="57.4" lengthAdjust="spacingAndGlyphs">omx100</text>
<text transform="translate(335.54 441.2) rotate(-90)" font-size="16.6" text-anchor="end" textLength="48.4" lengthAdjust="spacingAndGlyphs">omx50</text>
<text transform="translate(354.48 441.2) rotate(-90)" font-size="16.6" text-anchor="end" textLength="48.4" lengthAdjust="spacingAndGlyphs">omx75</text>
<text transform="translate(373.43 441.2) rotate(-90)" font-size="16.6" text-anchor="end" textLength="65.6" lengthAdjust="spacingAndGlyphs">omxc100</text>
<text transform="translate(392.37 441.2) rotate(-90)" font-size="16.6" text-anchor="end" textLength="56" lengthAdjust="spacingAndGlyphs">omxc50</text>
<text transform="translate(411.32 441.2) rotate(-90)" font-size="16.6" text-anchor="end" textLength="56" lengthAdjust="spacingAndGlyphs">omxc75</text>
<text transform="translate(428.16 441.2) rotate(-90)" font-size="16.6" text-anchor="end" textLength="29.7" lengthAdjust="spacingAndGlyphs">pw1</text>
<text transform="translate(447.11 441.2) rotate(-90)" font-size="16.6" text-anchor="end" textLength="29.7" lengthAdjust="spacingAndGlyphs">pw2</text>
<text transform="translate(466.05 441.2) rotate(-90)" font-size="16.6" text-anchor="end" textLength="47.2" lengthAdjust="spacingAndGlyphs">pwr25</text>
<text transform="translate(485 441.2) rotate(-90)" font-size="16.6" text-anchor="end" textLength="47.2" lengthAdjust="spacingAndGlyphs">pwr50</text>
<text transform="translate(503.94 441.2) rotate(-90)" font-size="16.6" text-anchor="end" textLength="47.2" lengthAdjust="spacingAndGlyphs">pwr75</text>
<text transform="translate(524.99 441.2) rotate(-90)" font-size="16.6" text-anchor="end" textLength="24.9" lengthAdjust="spacingAndGlyphs">uc1</text>
<text transform="translate(542.28 441.2) rotate(-90)" font-size="16.6" text-anchor="end" textLength="87.1" lengthAdjust="spacingAndGlyphs">uc1 + omdp</text>
<text transform="translate(561.68 441.2) rotate(-90)" font-size="16.6" text-anchor="end" textLength="103.9" lengthAdjust="spacingAndGlyphs">uc1 + omx100</text>
<text transform="translate(580.62 441.2) rotate(-90)" font-size="16.6" text-anchor="end" textLength="95" lengthAdjust="spacingAndGlyphs">uc1 + omx75</text>
<text transform="translate(599.12 441.2) rotate(-90)" font-size="16.6" text-anchor="end" textLength="80.7" lengthAdjust="spacingAndGlyphs">uc1 + oxdp</text>
<text transform="translate(619.71 441.2) rotate(-90)" font-size="16.6" text-anchor="end" textLength="24.9" lengthAdjust="spacingAndGlyphs">uc2</text>
<text transform="translate(637.01 441.2) rotate(-90)" font-size="16.6" text-anchor="end" textLength="87.1" lengthAdjust="spacingAndGlyphs">uc2 + omdp</text>
<text transform="translate(656.4 441.2) rotate(-90)" font-size="16.6" text-anchor="end" textLength="103.9" lengthAdjust="spacingAndGlyphs">uc2 + omx100</text>
<text transform="translate(675.35 441.2) rotate(-90)" font-size="16.6" text-anchor="end" textLength="95" lengthAdjust="spacingAndGlyphs">uc2 + omx75</text>
<text transform="translate(693.84 441.2) rotate(-90)" font-size="16.6" text-anchor="end" textLength="80.7" lengthAdjust="spacingAndGlyphs">uc2 + oxdp</text>
<text transform="translate(712.19 441.2) rotate(-90)" font-size="16.6" text-anchor="end" textLength="30.4" lengthAdjust="spacingAndGlyphs">ucm</text>
<text transform="translate(731.73 441.2) rotate(-90)" font-size="16.6" text-anchor="end" textLength="88.6" lengthAdjust="spacingAndGlyphs">ucm + imdp</text>
<text transform="translate(750.68 441.2) rotate(-90)" font-size="16.6" text-anchor="end" textLength="82.6" lengthAdjust="spacingAndGlyphs">ucm + ixdp</text>
<text transform="translate(770.07 441.2) rotate(-90)" font-size="16.6" text-anchor="end" textLength="109.9" lengthAdjust="spacingAndGlyphs">ucm + omx100</text>
<text transform="translate(789.02 441.2) rotate(-90)" font-size="16.6" text-anchor="end" textLength="101" lengthAdjust="spacingAndGlyphs">ucm + omx75</text>
<text transform="translate(806.91 441.2) rotate(-90)" font-size="16.6" text-anchor="end" textLength="23.2" lengthAdjust="spacingAndGlyphs">ucs</text>
<text transform="translate(828.56 441.2) rotate(-90)" font-size="16.6" text-anchor="end" textLength="43.6" lengthAdjust="spacingAndGlyphs">udr25</text>
<text transform="translate(847.5 441.2) rotate(-90)" font-size="16.6" text-anchor="end" textLength="43.6" lengthAdjust="spacingAndGlyphs">udr50</text>
<text transform="translate(866.45 441.2) rotate(-90)" font-size="16.6" text-anchor="end" textLength="43.6" lengthAdjust="spacingAndGlyphs">udr75</text>
<g font-size="17.3">
<text transform="translate(20.8 405.4) rotate(-90)" textLength="40.1" lengthAdjust="spacingAndGlyphs">Ratio</text>
<text transform="translate(20.8 360.5) rotate(-90)" textLength="46.3" lengthAdjust="spacingAndGlyphs">(mean</text>
<text transform="translate(20.8 309.5) rotate(-90)" textLength="28.4" lengthAdjust="spacingAndGlyphs">and</text>
<text transform="translate(20.8 276.3) rotate(-90)" textLength="53.5" lengthAdjust="spacingAndGlyphs">STDV</text>
<text transform="translate(20.8 216.4) rotate(-90)" textLength="14.7" lengthAdjust="spacingAndGlyphs">of</text>
<text transform="translate(20.8 195.4) rotate(-90)" textLength="16" lengthAdjust="spacingAndGlyphs">20</text>
<text transform="translate(20.8 173.7) rotate(-90)" textLength="57.1" lengthAdjust="spacingAndGlyphs">random</text>
<text transform="translate(20.8 111.8) rotate(-90)" textLength="46.9" lengthAdjust="spacingAndGlyphs">orders)</text>
</g>
<text y="23.9" font-size="20.6"><tspan x="99.8" textLength="103.5" lengthAdjust="spacingAndGlyphs">Predictions</tspan> <tspan x="209.3" textLength="91.1" lengthAdjust="spacingAndGlyphs">supported</tspan> <tspan x="307.2" textLength="33.9" lengthAdjust="spacingAndGlyphs">and</tspan> <tspan x="347.1" textLength="91.5" lengthAdjust="spacingAndGlyphs">prevented</tspan> <tspan x="445.7" textLength="18.9" lengthAdjust="spacingAndGlyphs">by</tspan> <tspan x="472" textLength="92" lengthAdjust="spacingAndGlyphs">validators</tspan> <tspan x="570.8" textLength="115.5" lengthAdjust="spacingAndGlyphs">(randomized</tspan> <tspan x="691.2" textLength="52.1" lengthAdjust="spacingAndGlyphs">order,</tspan> <tspan x="749.3" textLength="117.3" lengthAdjust="spacingAndGlyphs">mr/omi/svm)</tspan></text>
<rect x="391.5" y="372.5" width="511" height="55" fill="#fff" stroke="#000" stroke-width="1"/>
<text x="645" y="392.3" font-size="16.6" text-anchor="middle" textLength="97" lengthAdjust="spacingAndGlyphs">Stacked bars</text>
<rect x="397.5" y="405.5" width="34" height="12" fill="#eb9650" stroke="#85440f" stroke-width="1"/>
<text x="444.6" y="417" font-size="16.6" textLength="54.4" lengthAdjust="spacingAndGlyphs">supneg</text>
<rect x="532.5" y="405.5" width="33" height="12" fill="#f4bb8a" stroke="#85440f" stroke-width="1"/>
<text x="578.3" y="417" font-size="16.6" textLength="51.1" lengthAdjust="spacingAndGlyphs">preneg</text>
<rect x="665.5" y="405.5" width="33" height="12" fill="#d0d9b0" stroke="#5d6e36" stroke-width="1"/>
<text x="711.4" y="417" font-size="16.6" textLength="49.6" lengthAdjust="spacingAndGlyphs">prepos</text>
<rect x="795.5" y="405.5" width="34" height="12" fill="#b3c283" stroke="#5d6e36" stroke-width="1"/>
<text x="842.7" y="417" font-size="16.6" textLength="52.8" lengthAdjust="spacingAndGlyphs">suppos</text>
</svg>
</body></html>
